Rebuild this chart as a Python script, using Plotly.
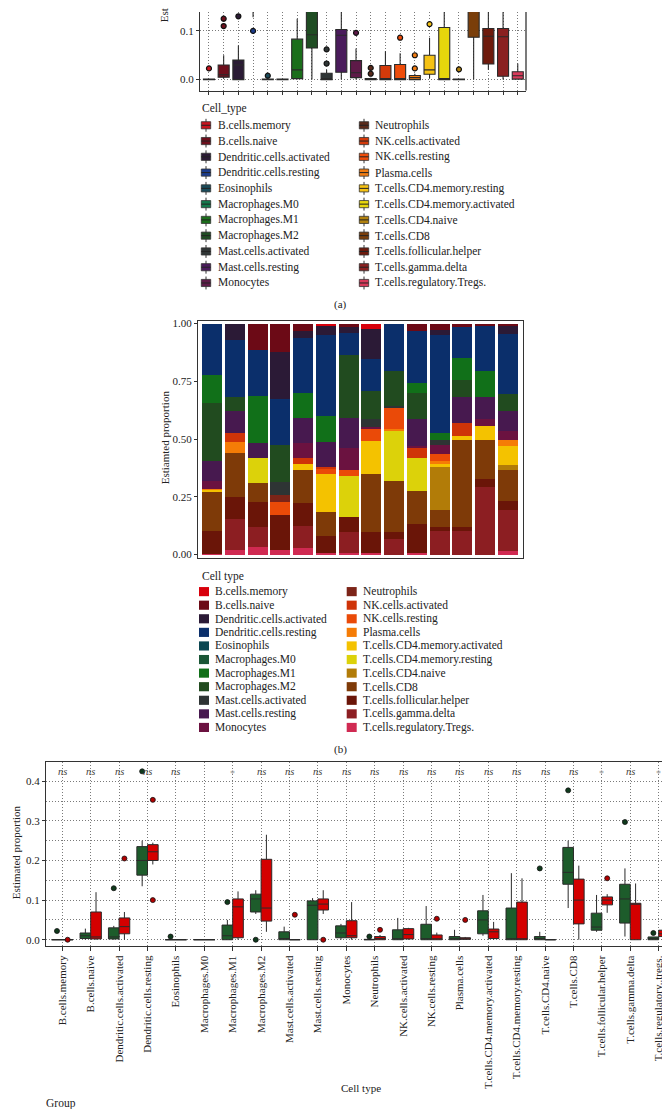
import plotly.graph_objects as go

W, H = 670, 1109
def px(x): return x / W
def py(y): return 1 - y / H

FONT = "Liberation Serif"
INK = "#222222"

# ---------------- Panel (a) data ----------------
a_types = ["B.cells.memory", "B.cells.naive", "Dendritic.cells.activated", "Dendritic.cells.resting",
           "Eosinophils", "Macrophages.M0", "Macrophages.M1", "Macrophages.M2", "Mast.cells.activated",
           "Mast.cells.resting", "Monocytes", "Neutrophils", "NK.cells.activated", "NK.cells.resting",
           "Plasma.cells", "T.cells.CD4.memory.resting", "T.cells.CD4.memory.activated", "T.cells.CD4.naive",
           "T.cells.CD8", "T.cells.follicular.helper", "T.cells.gamma.delta", "T.cells.regulatory.Tregs."]
a_colors = ["#c8141e", "#6e0f1c", "#2b1b35", "#1c3c8c", "#1a4b5a", "#12784a", "#1b6e1b", "#1f4d23",
            "#303636", "#4a1b5c", "#5e1a48", "#5a2a1a", "#d43a0a", "#ee4c0a", "#f07c12", "#f5c214",
            "#e6d60c", "#b2820e", "#7a3e0a", "#6e1a0c", "#8a2020", "#d83a5a"]
a_q1 = [0, 0.005, 0.0, 0.17, 0, 0, 0.002, 0.065, 0, 0.015, 0.004, 0, 0, 0, 0, 0.011, 0, 0, 0.087, 0.032, 0.007, 0.001]
a_med = [0, 0.01, 0.03, 0.2, 0, 0, 0.02, 0.092, 0.002, 0.091, 0.014, 0.001, 0.001, 0.001, 0.004, 0.02, 0.002, 0, 0.2, 0.089, 0.088, 0.008]
a_q3 = [0.001, 0.03, 0.04, 0.23, 0.001, 0.001, 0.083, 0.17, 0.013, 0.103, 0.039, 0.002, 0.029, 0.031, 0.0085, 0.05, 0.107, 0.001, 0.3, 0.105, 0.105, 0.016]
a_lo = [0, 0.002, 0, 0.128, 0, 0, 0, 0, 0, 0, 0, 0, 0, 0, 0, 0.003, 0, 0, 0, 0.02, 0, 0]
a_hi = [0.002, 0.05, 0.07, 0.28, 0.001, 0.001, 0.125, 0.25, 0.02, 0.16, 0.064, 0.004, 0.058, 0.054, 0.012, 0.086, 0.2, 0.002, 0.4, 0.2, 0.2, 0.033]
a_out = [[0.023], [0.11, 0.125], [0.13], [0.1], [0.008], [], [], [], [0.033, 0.062], [], [0.096],
         [0.012, 0.024], [], [0.086], [0.023, 0.05], [0.114], [], [0.021], [], [], [], []]

# ---------------- Panel (b) data (14 samples, proportions) ----------------
b_samples = list(range(1, 15))
b_B_memory = [0, 0, 0, 0, 0, 0.012, 0, 0.024, 0, 0, 0, 0, 0, 0]
b_B_naive = [0, 0, 0.114, 0.122, 0.032, 0, 0.014, 0, 0, 0.032, 0.027, 0.013, 0.01, 0.01]
b_DC_activated = [0, 0.07, 0, 0.205, 0.031, 0.037, 0.025, 0.13, 0, 0, 0.022, 0, 0, 0.033]
b_DC_resting = [0.223, 0.25, 0.198, 0.198, 0.239, 0.352, 0.099, 0.137, 0.204, 0.226, 0.424, 0.134, 0.194, 0.262]
b_Eosinophils = [0] * 14
b_M0 = [0] * 14
b_M1 = [0.122, 0, 0.205, 0, 0.107, 0.113, 0, 0, 0, 0.042, 0.033, 0.098, 0.113, 0]
b_M2 = [0.251, 0.057, 0, 0.161, 0, 0, 0.272, 0.122, 0.151, 0.112, 0, 0.075, 0, 0.072]
b_Mast_activated = [0, 0, 0, 0.058, 0, 0, 0, 0.033, 0.01, 0, 0.019, 0, 0, 0]
b_Mast_resting = [0.086, 0.095, 0.064, 0, 0.109, 0.105, 0.128, 0, 0, 0.118, 0, 0.112, 0.095, 0.089]
b_Monocytes = [0.033, 0, 0, 0, 0.063, 0, 0.094, 0.012, 0, 0.005, 0.039, 0, 0.031, 0.038]
b_Neutrophils = [0, 0, 0, 0.029, 0, 0, 0, 0, 0, 0, 0, 0, 0, 0]
b_NK_activated = [0, 0.042, 0, 0, 0.029, 0.011, 0, 0, 0, 0.049, 0, 0.056, 0, 0]
b_NK_resting = [0, 0, 0, 0.057, 0, 0.02, 0.03, 0.051, 0.09, 0, 0.032, 0, 0, 0]
b_Plasma = [0.005, 0.047, 0, 0, 0, 0, 0, 0, 0.008, 0, 0.014, 0, 0, 0.026]
b_CD4_mem_activated = [0.01, 0, 0, 0, 0.023, 0.167, 0, 0.141, 0, 0, 0.012, 0.018, 0.063, 0.082]
b_CD4_mem_resting = [0, 0, 0.109, 0, 0, 0, 0.175, 0, 0.219, 0.143, 0, 0, 0, 0]
b_CD4_naive = [0, 0, 0, 0, 0, 0, 0, 0, 0, 0, 0.184, 0, 0, 0.021]
b_CD8 = [0.17, 0.19, 0.084, 0, 0.144, 0.104, 0, 0.252, 0.22, 0.139, 0.076, 0.375, 0.169, 0.137]
b_Tfh = [0.097, 0.094, 0.106, 0.15, 0.099, 0.074, 0.067, 0.09, 0.029, 0.126, 0.018, 0.017, 0.033, 0.039]
b_gamma_delta = [0, 0.136, 0.087, 0, 0.094, 0, 0.088, 0, 0.069, 0, 0.1, 0.102, 0.292, 0.176]
b_Tregs = [0.003, 0.019, 0.033, 0.02, 0.03, 0.005, 0.008, 0.008, 0, 0.008, 0, 0, 0, 0.015]

b_types = ["B.cells.memory", "B.cells.naive", "Dendritic.cells.activated", "Dendritic.cells.resting",
           "Eosinophils", "Macrophages.M0", "Macrophages.M1", "Macrophages.M2", "Mast.cells.activated",
           "Mast.cells.resting", "Monocytes", "Neutrophils", "NK.cells.activated", "NK.cells.resting",
           "Plasma.cells", "T.cells.CD4.memory.activated", "T.cells.CD4.memory.resting", "T.cells.CD4.naive",
           "T.cells.CD8", "T.cells.follicular.helper", "T.cells.gamma.delta", "T.cells.regulatory.Tregs."]
b_values = [b_B_memory, b_B_naive, b_DC_activated, b_DC_resting, b_Eosinophils, b_M0, b_M1, b_M2,
            b_Mast_activated, b_Mast_resting, b_Monocytes, b_Neutrophils, b_NK_activated, b_NK_resting,
            b_Plasma, b_CD4_mem_activated, b_CD4_mem_resting, b_CD4_naive, b_CD8, b_Tfh, b_gamma_delta, b_Tregs]
b_colors = ["#d8000c", "#6c0a16", "#2b1a36", "#0b2f6b", "#0c4752", "#1a5636", "#117019", "#214b1f",
            "#2e3434", "#47194f", "#6b1240", "#7c2418", "#cf3408", "#ea4a08", "#f57c06", "#f4c200",
            "#dcd20a", "#b27c08", "#7e3a08", "#6a1508", "#8c1e22", "#d02a52"]

# ---------------- Panel (c) data ----------------
c_labels = ["B.cells.memory", "B.cells.naive", "Dendritic.cells.activated", "Dendritic.cells.resting",
            "Eosinophils", "Macrophages.M0", "Macrophages.M1", "Macrophages.M2", "Mast.cells.activated",
            "Mast.cells.resting", "Monocytes", "Neutrophils", "NK.cells.activated", "NK.cells.resting",
            "Plasma.cells", "T.cells.CD4.memory.activated", "T.cells.CD4.memory.resting", "T.cells.CD4.naive",
            "T.cells.CD8", "T.cells.follicular.helper", "T.cells.gamma.delta", "T.cells.regulatory..tregs."]
c_sig = ["ns", "ns", "ns", "ns", "ns", "", "*", "ns", "ns", "ns", "ns", "ns", "ns", "ns", "ns", "ns",
         "ns", "ns", "ns", "*", "ns", "*"]
c_g_q1 = [0, 0.003, 0.002, 0.163, 0, 0, 0.0, 0.07, 0, 0.0, 0.005, 0, 0, 0, 0, 0.015, 0, 0, 0.14, 0.024, 0.042, 0]
c_g_med = [0, 0.01, 0.007, 0.2, 0, 0, 0.01, 0.103, 0.003, 0.087, 0.017, 0, 0.002, 0, 0.002, 0.05, 0, 0.003, 0.17, 0.032, 0.103, 0.003]
c_g_q3 = [0, 0.017, 0.03, 0.235, 0, 0, 0.037, 0.115, 0.02, 0.098, 0.035, 0.001, 0.025, 0.039, 0.008, 0.073, 0.08, 0.008, 0.233, 0.067, 0.14, 0.007]
c_g_lo = [0, 0, 0, 0.135, 0, 0, 0, 0.065, 0, 0, 0, 0, 0, 0, 0, 0.01, 0, 0, 0.08, 0.02, 0.008, 0]
c_g_hi = [0, 0.028, 0.035, 0.25, 0, 0, 0.05, 0.125, 0.033, 0.105, 0.04, 0.001, 0.055, 0.085, 0.025, 0.113, 0.168, 0.02, 0.25, 0.113, 0.18, 0.007]
c_g_out = [[0.022], [], [0.13], [0.425], [0.008], [], [0.095], [0.0], [], [], [], [0.008], [], [], [], [],
           [], [0.18], [0.377], [], [0.297], [0.017]]
c_r_q1 = [0, 0.002, 0.015, 0.2, 0, 0, 0.005, 0.047, 0, 0.075, 0.005, 0, 0.002, 0, 0.001, 0.003, 0, 0, 0.04, 0.088, 0, 0.008]
c_r_med = [0, 0.007, 0.033, 0.222, 0, 0, 0.083, 0.08, 0, 0.09, 0.01, 0.003, 0.013, 0, 0.002, 0.02, 0, 0, 0.1, 0.1, 0.09, 0.015]
c_r_q3 = [0, 0.07, 0.055, 0.24, 0, 0, 0.103, 0.203, 0, 0.103, 0.048, 0.008, 0.028, 0.012, 0.005, 0.027, 0.095, 0, 0.153, 0.108, 0.092, 0.024]
c_r_lo = [0, 0, 0, 0.19, 0, 0, 0, 0.02, 0, 0.065, 0, 0, 0, 0, 0, 0, 0, 0, 0, 0.068, 0, 0.005]
c_r_hi = [0, 0.12, 0.07, 0.245, 0, 0, 0.122, 0.265, 0, 0.125, 0.095, 0.012, 0.03, 0.018, 0.007, 0.045, 0.155, 0, 0.187, 0.115, 0.142, 0.032]
c_r_out = [[0.0], [], [0.205], [0.353, 0.1], [], [], [], [], [0.063], [0.0], [], [0.025], [], [0.053], [0.05],
           [], [], [], [], [0.155], [], []]
c_green, c_red = "#1d5c2b", "#d40000"
c_green_pt, c_red_pt = "#0f3a1c", "#b00000"

fig = go.Figure()

# ---- panel a boxes ----
for i, name in enumerate(a_types):
    fig.add_trace(go.Box(x=[i], q1=[a_q1[i]], median=[a_med[i]], q3=[a_q3[i]],
                         lowerfence=[a_lo[i]], upperfence=[a_hi[i]], width=0.75,
                         fillcolor=a_colors[i], line=dict(color="#2a2a2a", width=1.1), whiskerwidth=0,
                         boxpoints=False, xaxis="x", yaxis="y", showlegend=False, hoverinfo="skip"))
    if a_out[i]:
        fig.add_trace(go.Scatter(x=[i] * len(a_out[i]), y=a_out[i], mode="markers", xaxis="x", yaxis="y",
                                 marker=dict(size=5, color=a_colors[i], line=dict(color="#111", width=1.2)),
                                 showlegend=False, hoverinfo="skip"))

# ---- panel b stacked bars (bottom to top = reverse legend order) ----
for name, vals, col in reversed(list(zip(b_types, b_values, b_colors))):
    fig.add_trace(go.Bar(x=list(range(len(b_samples))), y=vals, marker=dict(color=col, line=dict(width=0)),
                         width=0.88, xaxis="x2", yaxis="y2", showlegend=False, hoverinfo="skip"))

# ---- panel c grouped boxes ----
off = 0.1875
for i in range(len(c_labels)):
    for sgn, q1, md, q3, lo, hi, outs, col, pcol in [
        (-1, c_g_q1, c_g_med, c_g_q3, c_g_lo, c_g_hi, c_g_out, c_green, c_green_pt),
        (1, c_r_q1, c_r_med, c_r_q3, c_r_lo, c_r_hi, c_r_out, c_red, c_red_pt)]:
        xx = i + sgn * off
        fig.add_trace(go.Box(x=[xx], q1=[q1[i]], median=[md[i]], q3=[q3[i]], lowerfence=[lo[i]],
                             upperfence=[hi[i]], width=0.375, fillcolor=col,
                             line=dict(color="#2a2a2a", width=1), whiskerwidth=0, boxpoints=False,
                             xaxis="x3", yaxis="y3", showlegend=False, hoverinfo="skip"))
        if outs[i]:
            fig.add_trace(go.Scatter(x=[xx] * len(outs[i]), y=outs[i], mode="markers", xaxis="x3", yaxis="y3",
                                     marker=dict(size=5, color=pcol, line=dict(color="#111", width=0.8)),
                                     showlegend=False, hoverinfo="skip"))

DOT = "1px,2px"
grid = dict(showgrid=True, gridcolor="#7a7a7a", griddash=DOT, gridwidth=1)
axline = dict(showline=True, linecolor="#333333", linewidth=1.3)
tickf = dict(family=FONT, size=11, color=INK)

layout = dict(
    width=W, height=H, margin=dict(l=0, r=0, t=0, b=0), autosize=False,
    paper_bgcolor="white", plot_bgcolor="white",
    font=dict(family=FONT, size=11, color=INK),
    barmode="stack", boxmode="overlay", showlegend=False,
    xaxis=dict(domain=[px(192), px(518)], range=[-0.61, 21.56], anchor="y", tickvals=list(range(22)),
               showticklabels=False, ticks="outside", ticklen=3, tickcolor="#333", zeroline=False,
               **grid, **axline),
    yaxis=dict(domain=[py(79), 1], range=[-0.0224, 0.1388], anchor="x", tickvals=[0, 0.1],
               ticktext=["0.0", "0.1"], ticks="outside", ticklen=3, tickcolor="#333", tickfont=tickf,
               zeroline=False, **grid, **axline),
    xaxis2=dict(domain=[px(190), px(515)], range=[-0.615, 13.66], anchor="y2", showticklabels=False,
                ticks="", showgrid=False, zeroline=False, mirror=True, **axline),
    yaxis2=dict(domain=[py(549), py(311)], range=[-0.013, 1.011], anchor="x2",
                tickvals=[0, 0.25, 0.5, 0.75, 1.0], ticktext=["0.00", "0.25", "0.50", "0.75", "1.00"],
                ticks="outside", ticklen=3, tickcolor="#333", tickfont=tickf, showgrid=False,
                zeroline=False, mirror=True, **axline),
    xaxis3=dict(domain=[px(38), px(668)], range=[-0.574, 21.61], anchor="y3", tickvals=list(range(22)),
                ticktext=c_labels, tickangle=-90, ticks="outside", ticklen=4, tickcolor="#333",
                tickfont=dict(family=FONT, size=11, color=INK), zeroline=False, mirror=True,
                **grid, **axline),
    yaxis3=dict(domain=[py(940), py(755)], range=[-0.016, 0.448], anchor="x3", tickvals=[0, 0.1, 0.2, 0.3, 0.4],
                ticktext=["0.0", "0.1", "0.2", "0.3", "0.4"], ticks="outside", ticklen=3, tickcolor="#333",
                tickfont=tickf, zeroline=False, mirror=True,
                minor=dict(dtick=0.05, tick0=0, showgrid=True, gridcolor="#7a7a7a", griddash=DOT, ticks=""),
                **grid, **axline),
)
fig.update_layout(**layout)

shapes = [dict(type="line", xref="x domain", yref="y domain", x0=1, x1=1, y0=0, y1=1,
               line=dict(color="#333333", width=1.3))]
annots = []

def txt(x, y, s, size=11, xa="left", ya="middle", angle=0, color=INK):
    annots.append(dict(x=px(x), y=py(y), xref="paper", yref="paper", text=s, showarrow=False,
                       xanchor=xa, yanchor=ya, textangle=angle,
                       font=dict(family=FONT, size=size, color=color)))

# Panel a: y label (mostly cropped) and legend with box glyphs
txt(156, -37, "Estimated proportion", angle=-90, xa="center", ya="middle")
txt(191.7, 97.3, "Cell_type", size=11.5)
row_a = 15.87
for k, (name, col) in enumerate(zip(a_types, a_colors)):
    c, r = divmod(k, 11)
    cx = 198 if c == 0 else 356
    tx = 208.3 if c == 0 else 365
    cy = 114 + r * row_a
    shapes.append(dict(type="line", xref="paper", yref="paper", x0=px(cx), x1=px(cx), y0=py(cy - 6.5),
                       y1=py(cy + 6.5), line=dict(color="#333", width=1)))
    shapes.append(dict(type="rect", xref="paper", yref="paper", x0=px(cx - 4.7), x1=px(cx + 4.7),
                       y0=py(cy - 3.6), y1=py(cy + 3.6), fillcolor=col, line=dict(color="#333", width=0.8)))
    shapes.append(dict(type="line", xref="paper", yref="paper", x0=px(cx - 4.7), x1=px(cx + 4.7),
                       y0=py(cy), y1=py(cy), line=dict(color="#222", width=1)))
    txt(tx, cy, name, size=11.5)
txt(332.7, 294, "(a)", xa="center")

# Panel b: y label and legend with squares
txt(157, 428, "Estiamted proportion", angle=-90, xa="center")
txt(191.7, 567.7, "Cell type", size=11.5)
row_b = 13.67
for k, (name, col) in enumerate(zip(b_types, b_colors)):
    c, r = divmod(k, 11)
    cx = 196 if c == 0 else 343.7
    tx = 205 if c == 0 else 353.3
    cy = 583.3 + r * row_b
    shapes.append(dict(type="rect", xref="paper", yref="paper", x0=px(cx - 5), x1=px(cx + 5),
                       y0=py(cy - 4.6), y1=py(cy + 4.6), fillcolor=col, line=dict(width=0)))
    txt(tx, cy, name, size=11.5)
txt(332.7, 741.7, "(b)", xa="center")

# Panel c: significance labels, axis titles, group title
for i, s in enumerate(c_sig):
    if s == "ns":
        annots.append(dict(x=i, y=py(764), xref="x3", yref="paper", text="<i>ns</i>", showarrow=False,
                           xanchor="center", yanchor="middle", font=dict(family=FONT, size=10.5, color="#444")))
    elif s == "*":
        annots.append(dict(x=i, y=py(766), xref="x3", yref="paper", text="*", showarrow=False,
                           xanchor="center", yanchor="middle", font=dict(family=FONT, size=10, color="#999")))
txt(7.5, 846, "Estimated proportion", angle=-90, xa="center")
txt(353, 1083, "Cell type", xa="center")
txt(36, 1098, "Group", size=11.5)

fig.update_layout(shapes=shapes, annotations=annots)
fig.write_html("out.html")
